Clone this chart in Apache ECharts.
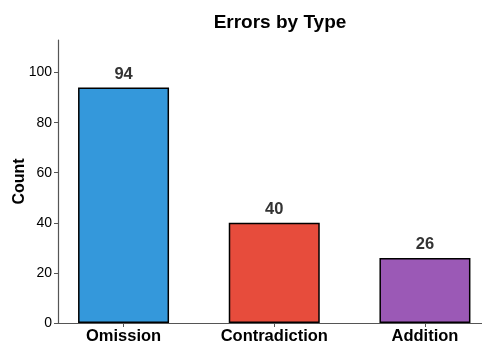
<!DOCTYPE html>
<html><head><meta charset="utf-8">
<script src="https://cdn.jsdelivr.net/npm/echarts@6/dist/echarts.min.js"></script>
<style>html,body{margin:0;padding:0;background:#fff}#c{width:482px;height:341px}</style>
</head><body><div id="c"></div>
<script>
const categories = ['Omission', 'Contradiction', 'Addition'];
const counts = [94, 40, 26];
const colors = ['#3498db', '#e74c3c', '#9b59b6'];
const yTicks = [0, 20, 40, 60, 80, 100];

const chart = echarts.init(document.getElementById('c'), null, {renderer: 'canvas'});
const font = 'Liberation Sans, Arial, sans-serif';
chart.setOption({
  animation: false,
  title: {
    text: 'Errors by Type', left: 275, top: 8, textAlign: 'center',
    textStyle: {fontFamily: font, fontSize: 19, fontWeight: 'bold', color: '#000'}
  },
  grid: {left: 58, top: 40, width: 431, height: 283, containLabel: false, outerBoundsMode: 'none'},
  xAxis: {
    type: 'value', min: -0.435, max: 2.425,
    splitLine: {show: false},
    axisLine: {show: true, onZero: false, lineStyle: {color: '#555', width: 1.2}},
    axisTick: {show: true, customValues: categories.map((c, i) => i), length: 4, lineStyle: {color: '#555'}},
    axisLabel: {
      customValues: categories.map((c, i) => i),
      formatter: v => categories[Math.round(v)] || '',
      fontFamily: font, fontSize: 16.5, fontWeight: 'bold', color: '#000', margin: 5
    }
  },
  yAxis: {
    type: 'value', min: 0, max: 113,
    name: 'Count', nameLocation: 'middle', nameGap: 30, nameMoveOverlap: false,
    nameTextStyle: {fontFamily: font, fontSize: 16, fontWeight: 'bold', color: '#000'},
    splitLine: {show: false},
    axisLine: {show: true, onZero: false, lineStyle: {color: '#555', width: 1.2}},
    axisTick: {show: true, customValues: yTicks, length: 4, lineStyle: {color: '#555'}},
    axisLabel: {customValues: yTicks, fontFamily: font, fontSize: 14, color: '#000', margin: 6}
  },
  series: [{
    type: 'bar', barWidth: 91,
    data: counts.map((v, i) => ({value: [i, v], itemStyle: {color: colors[i]}})),
    itemStyle: {borderColor: '#000', borderWidth: 1.5},
    label: {
      show: true, position: 'top', distance: 5,
      formatter: p => p.value[1],
      fontFamily: font, fontSize: 16.5, fontWeight: 'bold', color: '#333'
    }
  }]
});
</script></body></html>
